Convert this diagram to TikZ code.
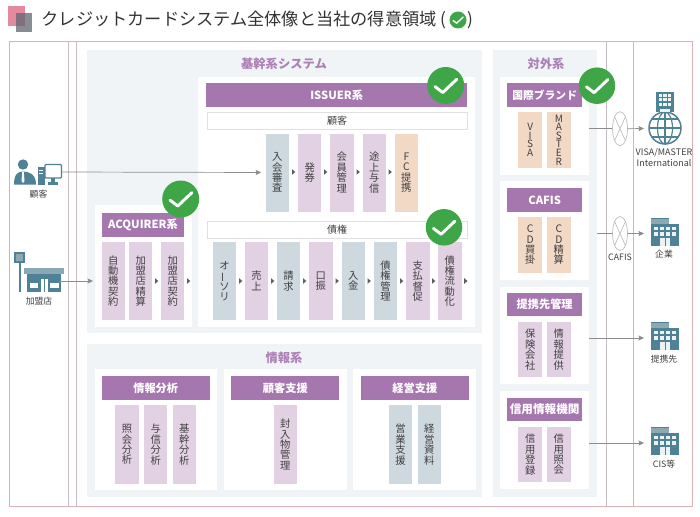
\documentclass[tikz,border=0pt]{standalone}
\usepackage{fontspec}
\usepackage{graphicx}
\setmainfont{Noto Sans CJK JP}
\usetikzlibrary{arrows.meta,shapes.geometric}
\setlength\normallineskiplimit{-20pt}
\newcommand\tightls{\setlength\lineskiplimit{-20pt}}
\newcommand\cellfont{\fontsize{10.3}{10.4}\selectfont\tightls}
\newcommand\latfont{\fontsize{10}{8.6}\selectfont\tightls}
\newcommand\labfont{\fontsize{8.8}{10.5}\selectfont\tightls}
\newcommand\visafont{\fontsize{9}{10.5}\selectfont\tightls}
\definecolor{purp}{HTML}{A676AE}
\definecolor{titlep}{HTML}{AD80B6}
\definecolor{bgc}{HTML}{F1F4F6}
\definecolor{gb}{HTML}{CDD8DF}
\definecolor{mv}{HTML}{E2D0E3}
\definecolor{pc}{HTML}{F2D9C6}
\definecolor{ink}{HTML}{404040}
\definecolor{icon}{HTML}{4F8296}
\definecolor{iconl}{HTML}{8AA9B3}
\definecolor{line}{HTML}{8C8C8C}
\definecolor{pinkf}{HTML}{DDB0B6}
\definecolor{vline}{HTML}{C6BCC4}
\definecolor{okg}{HTML}{3FA648}
\definecolor{sqred}{HTML}{E58A9C}
\definecolor{sqgray}{HTML}{5F6672}
\newcommand\bx[6][]{\node[cell,#1,minimum width=#4pt-#2pt,minimum height=#5pt-#3pt] (#6) at ({(#2+#4)/2},{(#3+#5)/2})}
\newcommand\tri[2]{\fill[ink!85] (#1-1.5,#2-2.8) -- (#1+1.8,#2) -- (#1-1.5,#2+2.8) -- cycle;}
\newcommand\okc[3]{\node[okcircle,minimum size=#3pt] (#1) at (#2) {};
  \draw[white,line width=#3pt*0.08,line cap=round,line join=round] ([shift={(-#3*0.29,#3*0.03)}]#1.center) -- ([shift={(-#3*0.08,#3*0.19)}]#1.center) -- ([shift={(#3*0.30,-#3*0.17)}]#1.center);}
\newcommand\bldg[1]{\begin{scope}[shift={(651,#1)}]
  \fill[iconl] (0,0) rectangle (18,7);
  \fill[icon] (0,0) rectangle (18,1.2);
  \fill[icon] (0,6) rectangle (28,28.5);
  \foreach \px in {3,9,15,21}{\foreach \py in {9,14.5}{\fill[white!90!icon] (\px,\py) rectangle ++(4,3.4);}}
  \fill[white!90!icon] (9,20.5) rectangle (19,28.5);
  \fill[icon] (13.5,20.5) rectangle (14.5,28.5);
  \end{scope}}
\tikzset{
  cell/.style={inner sep=0pt,outer sep=0pt,align=center,text=ink,font=\cellfont},
  panel/.style={fill=white},
  bgbox/.style={fill=bgc},
  head/.style={fill=purp,text=white,font=\fontsize{11.2}{12}\selectfont\bfseries},
  sub/.style={fill=white,draw=black!12,line width=.6pt,font=\fontsize{10}{11}\selectfont},
  gbc/.style={fill=gb},
  mvc/.style={fill=mv},
  pcc/.style={fill=pc},
  sect/.style={text=titlep,font=\fontsize{12.3}{14}\selectfont\bfseries,inner sep=0pt},
  lab/.style={text=ink,font=\labfont,inner sep=0pt,align=center},
  okcircle/.style={circle,fill=okg,inner sep=0pt},
  conn/.style={draw=line,line width=.7pt,-{Stealth[length=5.5pt,width=5pt,inset=1pt]}},
  plain/.style={draw=line,line width=.7pt},
  xnode/.style={ellipse,draw=black!25,fill=white,line width=.7pt,minimum width=15pt,minimum height=34pt,inner sep=0pt},
}
\newcommand\vbarch{\rotatebox[origin=c]{90}{ー}}
\begin{document}
\begin{tikzpicture}[x=1pt,y=-1pt]
\useasboundingbox (0,0) rectangle (700,516);
\fill[white] (0,0) rectangle (700,516);
% title
\fill[sqred] (8,6) rectangle (25,26.5);
\fill[sqgray,opacity=.75] (16,13) rectangle (32,32);
\node[anchor=west,inner sep=0pt,text=black!80,font=\fontsize{17.2}{20}\selectfont] (title) at (41.5,20) {クレジットカードシステム全体像と当社の得意領域 (};
\node[anchor=west,inner sep=0pt,text=black!80,font=\fontsize{17.2}{20}\selectfont] (titleb) at (467,20) {)};
\okc{okt}{458,20}{17}
% frame
\draw[pinkf,line width=.9pt] (9,41.5) rectangle (692.7,506);
\draw[vline,line width=1pt] (68,41.5) -- (68,506);
\draw[vline!80!pinkf,line width=1pt] (76.5,41.5) -- (76.5,506);
\draw[vline,line width=1pt] (606.7,41.5) -- (606.7,506);
\draw[vline,line width=1pt] (633.3,41.5) -- (633.3,506);
% backgrounds
\bx[bgbox]{87}{50}{481.7}{333}{core} {};
\bx[bgbox]{87}{343.7}{481.7}{496.7}{info} {};
\bx[bgbox]{493.3}{50}{596.7}{496.7}{ext} {};
\node[sect] (tcore) at (284,63.5) {基幹系システム};
\node[sect] (tinfo) at (284,358) {情報系};
\node[sect] (text) at (546,64) {対外系};
% issuer
\bx[panel]{198}{77}{475}{327}{issp} {};
\bx[head]{206}{83}{467.3}{107}{issh} {ISSUER系};
\bx[sub]{207}{112}{467}{129.5}{cust} {顧客};
\bx[gbc]{265.7}{133.5}{289}{211.5}{a1} {入\\会\\審\\査};
\bx[mvc]{298}{133.5}{321.3}{211.5}{a2} {発\\券};
\bx[mvc]{330}{133.5}{353.5}{211.5}{a3} {会\\員\\管\\理};
\bx[mvc]{362.7}{133.5}{385.7}{211.5}{a4} {途\\上\\与\\信};
\bx[pcc]{394.7}{133.5}{418}{211.5}{a5} {F\\C\\提\\携};
\tri{293.5}{172}\tri{325.5}{172}\tri{358}{172}\tri{390}{172}
\bx[sub]{207}{221}{467}{238.5}{debt} {債権};
\bx[gbc]{213}{242}{236}{320}{b1} {オ\\\vbarch\\ソ\\リ};
\bx[mvc]{245}{242}{268}{320}{b2} {売\\上};
\bx[gbc]{277}{242}{300}{320}{b3} {請\\求};
\bx[mvc]{309}{242}{332.7}{320}{b4} {口\\振};
\bx[gbc]{341.7}{242}{365}{320}{b5} {入\\金};
\bx[gbc]{373.7}{242}{397.3}{320}{b6} {債\\権\\管\\理};
\bx[mvc]{406}{242}{429.7}{320}{b7} {支\\払\\督\\促};
\bx[mvc]{438}{242}{461.7}{320}{b8} {債\\権\\流\\動\\化};
\tri{240.5}{281}\tri{272.5}{281}\tri{304.5}{281}\tri{337}{281}\tri{369}{281}\tri{401.5}{281}\tri{433.5}{281}\tri{465.7}{281}
% acquirer
\bx[panel]{95}{205}{192}{327}{acqp} {};
\bx[head]{101.7}{213}{184.3}{236.7}{acqh} {ACQUIRER系};
\bx[mvc]{101.7}{242}{125}{320}{c1} {自\\動\\機\\契\\約};
\bx[mvc]{129}{242}{152.3}{320}{c2} {加\\盟\\店\\精\\算};
\bx[mvc]{161}{242}{184.3}{320}{c3} {加\\盟\\店\\契\\約};
\tri{156.5}{281}\tri{188.5}{281}
% info
\bx[panel]{95}{369.3}{217}{490.3}{ip1} {};
\bx[panel]{224}{369.3}{346.7}{490.3}{ip2} {};
\bx[panel]{353.3}{369.3}{476}{490.3}{ip3} {};
\bx[head]{101.7}{376.3}{209.7}{400}{ih1} {情報分析};
\bx[head]{231.3}{376.3}{339.3}{400}{ih2} {顧客支援};
\bx[head]{360.7}{376.3}{469}{400}{ih3} {経営支援};
\bx[mvc]{115.3}{405.3}{138.7}{483.7}{d1} {照\\会\\分\\析};
\bx[mvc]{144}{405.3}{167.3}{483.7}{d2} {与\\信\\分\\析};
\bx[mvc]{172.7}{405.3}{196}{483.7}{d3} {基\\幹\\分\\析};
\bx[mvc]{273.7}{405.3}{297}{483.7}{d4} {封\\入\\物\\管\\理};
\bx[gbc]{388.7}{405.3}{412.3}{483.7}{d5} {営\\業\\支\\援};
\bx[gbc]{417.7}{405.3}{441}{483.7}{d6} {経\\営\\資\\料};
% external
\bx[panel]{500}{77}{589.3}{175}{ep1} {};
\bx[panel]{500}{181.3}{589.3}{279.5}{ep2} {};
\bx[panel]{500}{286.7}{589.3}{384.3}{ep3} {};
\bx[panel]{500}{391}{589.3}{488.7}{ep4} {};
\bx[head,font=\fontsize{10.8}{12}\selectfont\bfseries]{507}{83}{582.3}{107}{eh1} {国際ブランド};
\bx[head]{507}{188}{582.3}{211.7}{eh2} {CAFIS};
\bx[head]{507}{292.7}{582.3}{316.3}{eh3} {提携先管理};
\bx[head,font=\fontsize{11.6}{12}\selectfont\bfseries]{507}{397.7}{582.3}{421.3}{eh4} {信用情報機関};
\bx[pcc,font=\latfont]{518.3}{112}{542}{168}{e1} {V\\I\\S\\A};
\bx[pcc,font=\latfont]{547}{112}{570.7}{168}{e2} {M\\A\\S\\T\\E\\R};
\bx[pcc]{518.3}{217}{542}{272.7}{e3} {C\\D\\買\\掛};
\bx[pcc]{547}{217}{570.7}{272.7}{e4} {C\\D\\精\\算};
\bx[mvc]{518.3}{321.7}{542}{377.3}{e5} {保\\険\\会\\社};
\bx[mvc]{547}{321.7}{570.7}{377.3}{e6} {情\\報\\提\\供};
\bx[mvc]{518.3}{426.7}{542}{482.3}{e7} {信\\用\\登\\録};
\bx[mvc]{547}{426.7}{570.7}{482.3}{e8} {信\\用\\照\\会};
% left icons
\fill[icon] (23,164.5) circle (5.2);
\fill[icon] (14,184.5) .. controls (14,174) and (18,171.5) .. (23,171.5) .. controls (29,171.5) and (36,174) .. (36,184.5) -- cycle;
\fill[white] (22.2,172) -- (23.8,172) -- (24.5,181) -- (23,183) -- (21.5,181) -- cycle;
\fill[icon] (37.5,167) rectangle (44.5,184.5);
\fill[white] (39,170) rectangle (43,171);
\fill[white] (39,172.5) rectangle (43,173.5);
\draw[icon,line width=1.3pt,fill=white,rounded corners=1pt] (45,164.5) rectangle (61.5,178);
\fill[icon] (50.5,178) rectangle (54.5,182);
\fill[icon] (47.5,182) rectangle (57.5,184.5);
\node[lab] (lcust) at (38.5,194) {顧客};
\coordinate (pcport) at (62,172);
\fill[icon] (14,252) rectangle (25.3,263);
\fill[iconl] (16.2,254.2) rectangle (23.1,260.8);
\fill[icon] (19.2,263) rectangle (21,292);
\fill[iconl] (24,268) rectangle (64,274);
\fill[icon] (27,274) rectangle (60.7,292);
\fill[white] (29.5,283) rectangle (38,288);
\fill[white] (50,283) rectangle (59,288);
\fill[white] (40.5,279) rectangle (48,292);
\fill[icon] (43.8,279) rectangle (44.8,292);
\node[lab] (lstore) at (39,301) {加盟店};
\coordinate (storeport) at (59,281);
% right icons
\fill[icon] (656,92) rectangle (674,112);
\foreach \px in {658.5,663.3,668.1}{\foreach \py in {94,98.5,103}{\fill[white!90!icon] (\px,\py) rectangle ++(3.3,3);}}
\draw[icon,line width=1.5pt,fill=white] (665,128) circle (16);
\draw[icon,line width=1.2pt] (665,128) ellipse (7.5 and 16);
\draw[icon,line width=1.2pt] (665,112) -- (665,144) (649,128) -- (681,128);
\draw[icon,line width=1.2pt] (652,119) -- (678,119) (652,137) -- (678,137);
\fill[white!90!icon] (660,108.5) rectangle (670,112);
\node[lab,font=\visafont] (lvisa) at (664,157.5) {VISA/MASTER\\International};
\coordinate (pbrand) at (644,128.5);
\coordinate (pkigyo) at (644,233.5);
\coordinate (pteikei) at (644,338);
\coordinate (pcis) at (644,443);
\bldg{217.7}
\bldg{321.7}
\bldg{426.7}
\node[lab] (lcafis) at (620,257.5) {CAFIS};
\node[lab] (lkig) at (664,254.5) {企業};
\node[lab] (lte) at (664,359) {提携先};
\node[lab] (lcis) at (664,464) {CIS等};
% ellipses
\node[xnode] (x1) at (620,128.7) {};
\draw[black!25,line width=.7pt] (x1.north west) -- (x1.south east) (x1.north east) -- (x1.south west);
\node[xnode] (x2) at (620,233.5) {};
\draw[black!25,line width=.7pt] (x2.north west) -- (x2.south east) (x2.north east) -- (x2.south west);
% connectors
\coordinate (o1) at (589.3,128.7);
\coordinate (o2) at (597,233.5);
\coordinate (o3) at (589.3,338);
\coordinate (o4) at (589.3,443);
\draw[plain] (o1) -- (x1.west);
\draw[conn] (x1.east) -- (pbrand);
\draw[plain] (o2) -- (x2.west);
\draw[conn] (x2.east) -- (pkigyo);
\draw[conn] (o3) -- (pteikei);
\draw[conn] (o4) -- (pcis);
\draw[conn,shorten >=4.5pt] (pcport) -- (a1.west);
\draw[conn,shorten >=2pt] (storeport) -- (storeport -| acqp.west);
% checks
\okc{ok1}{445.7,85.5}{37}
\okc{ok2}{444,227.3}{36.5}
\okc{ok3}{597,85.7}{36.5}
\okc{ok4}{180.7,199}{37}
\end{tikzpicture}
\end{document}
